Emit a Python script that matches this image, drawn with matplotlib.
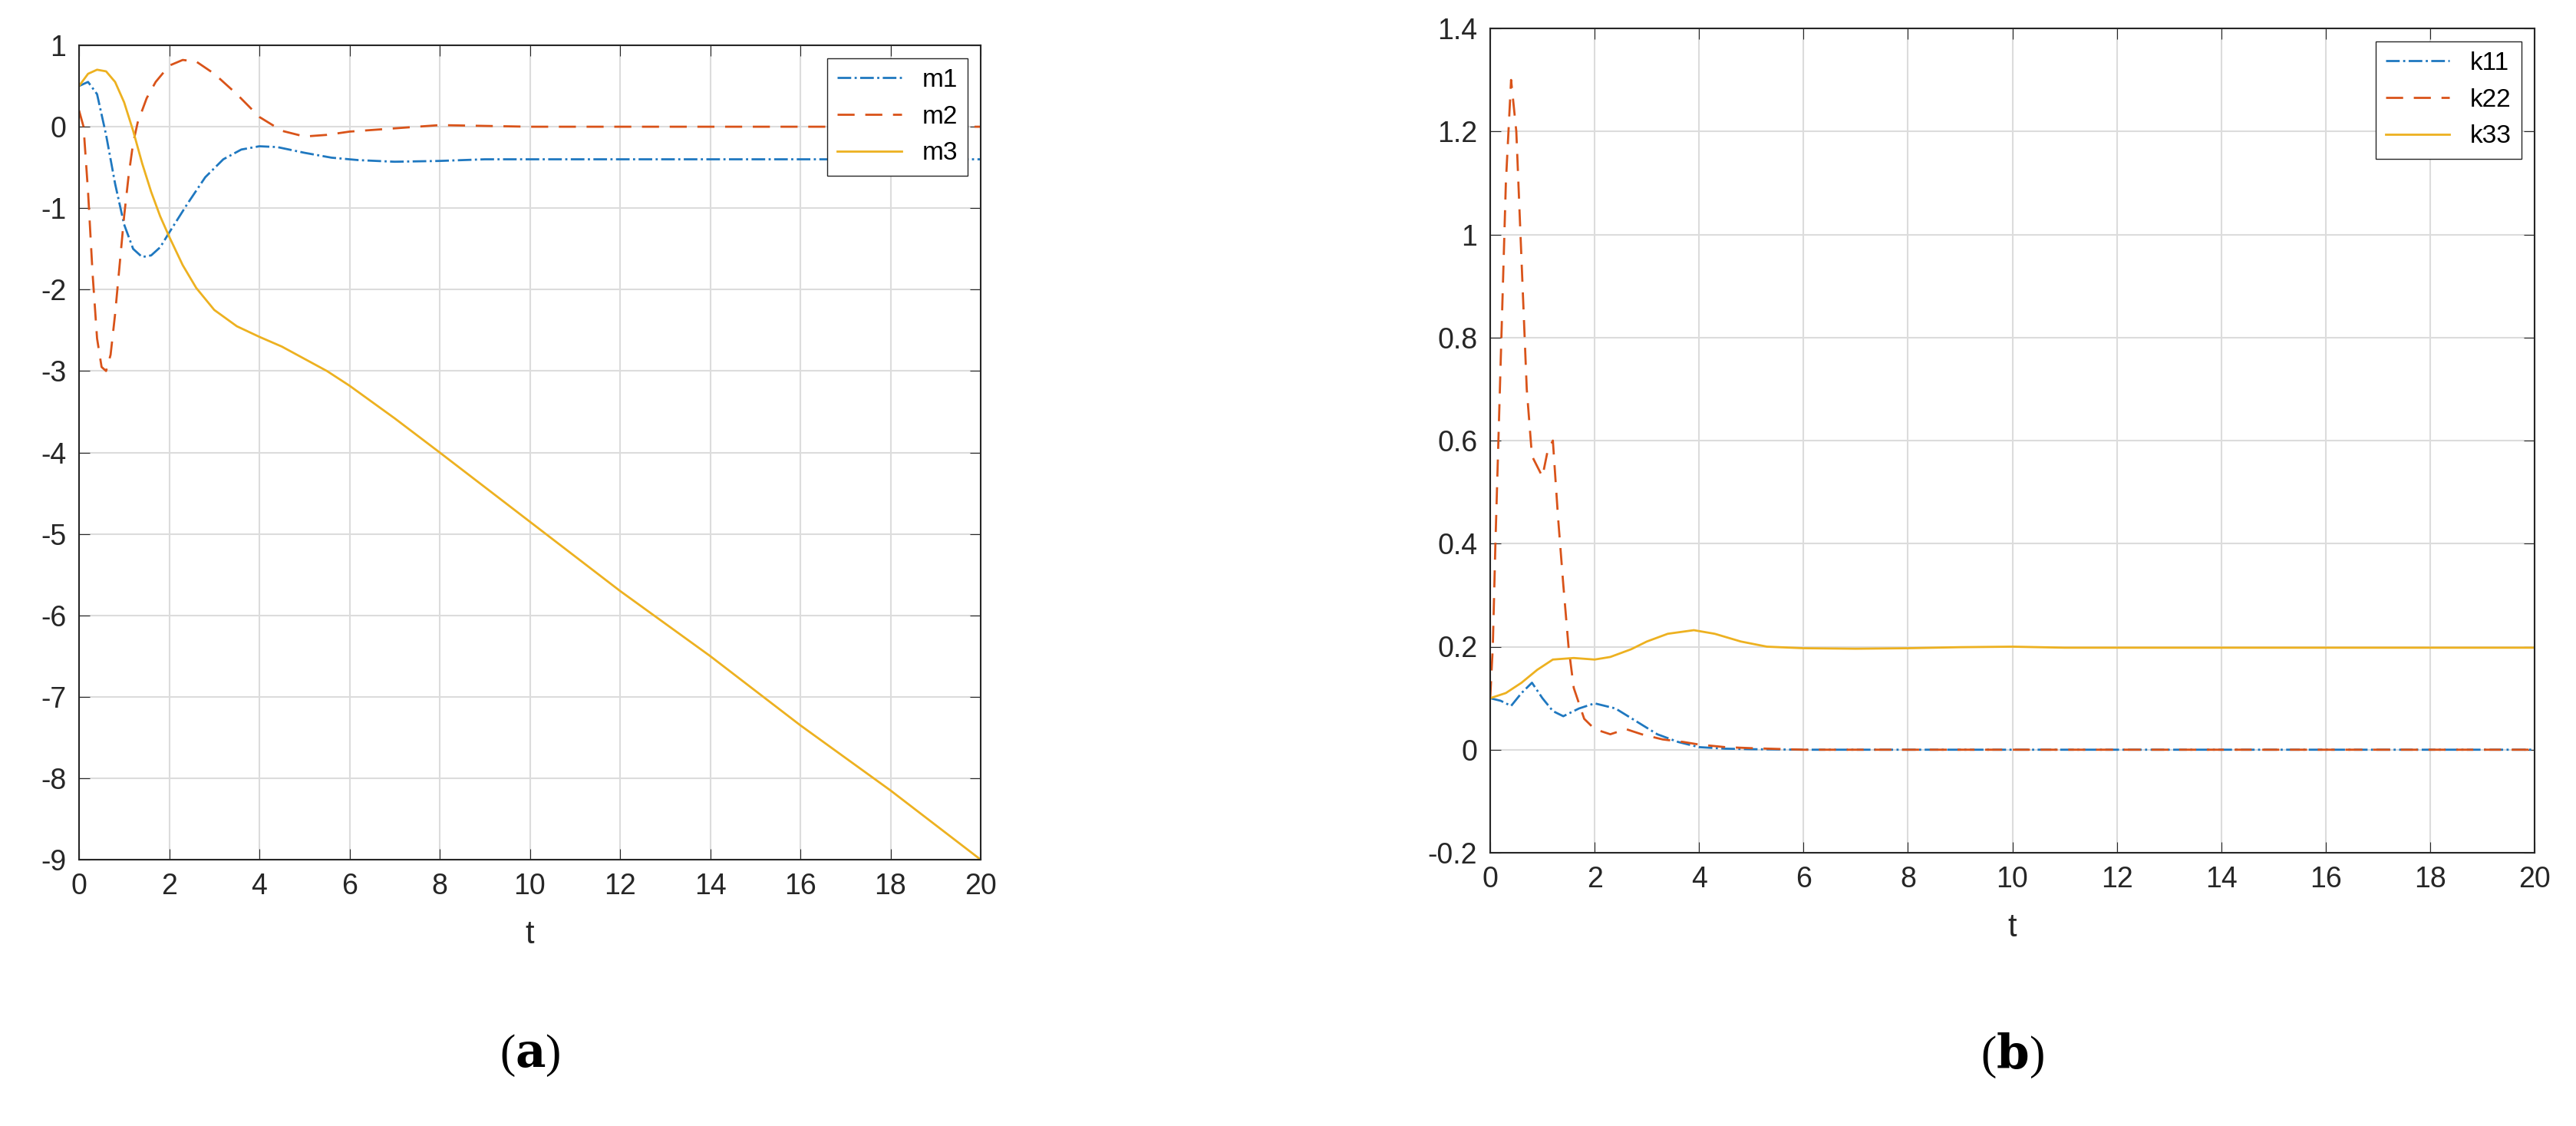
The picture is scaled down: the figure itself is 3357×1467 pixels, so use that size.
import matplotlib
matplotlib.use("Agg")
import matplotlib.pyplot as plt

t_m1 = [0,0.2,0.4,0.6,0.8,1.0,1.2,1.4,1.6,1.8,2.0,2.4,2.8,3.2,3.6,4.0,4.4,5.0,5.6,6.2,7.0,8.0,9.0,10,20]
m1 = [0.5,0.55,0.4,-0.1,-0.7,-1.2,-1.5,-1.6,-1.58,-1.48,-1.3,-0.95,-0.62,-0.4,-0.28,-0.24,-0.25,-0.32,-0.38,-0.41,-0.43,-0.42,-0.4,-0.4,-0.4]
t_m2 = [0,0.1,0.2,0.3,0.4,0.5,0.6,0.7,0.8,0.9,1.0,1.1,1.2,1.3,1.5,1.7,2.0,2.3,2.6,3.0,3.5,4.0,4.5,5.0,5.5,6.0,7.0,8.0,9.0,10,20]
m2 = [0.2,0.0,-0.8,-1.8,-2.6,-2.95,-3.0,-2.8,-2.3,-1.7,-1.1,-0.6,-0.2,0.05,0.35,0.55,0.75,0.82,0.8,0.65,0.4,0.12,-0.05,-0.12,-0.1,-0.06,-0.02,0.02,0.01,0.0,0.0]
t_m3 = [0,0.2,0.4,0.6,0.8,1.0,1.2,1.4,1.6,1.8,2.0,2.3,2.6,3.0,3.5,4.0,4.5,5.0,5.5,6.0,7.0,8.0,10,12,14,16,18,20]
m3 = [0.5,0.65,0.7,0.68,0.55,0.3,-0.05,-0.45,-0.8,-1.1,-1.35,-1.7,-1.98,-2.25,-2.45,-2.58,-2.7,-2.85,-3.0,-3.18,-3.58,-4.0,-4.85,-5.7,-6.5,-7.35,-8.15,-9.0]

t_k11 = [0,0.2,0.4,0.6,0.8,1.0,1.2,1.4,1.7,2.0,2.4,2.8,3.2,3.6,4.0,4.5,5.0,6.0,20]
k11 = [0.1,0.095,0.085,0.11,0.13,0.1,0.075,0.065,0.08,0.09,0.08,0.055,0.03,0.015,0.005,0.002,0.001,0.0,0.0]
t_k22 = [0,0.05,0.1,0.2,0.3,0.4,0.5,0.6,0.7,0.8,0.9,1.0,1.1,1.2,1.3,1.4,1.5,1.6,1.8,2.0,2.3,2.6,2.9,3.3,3.7,4.0,4.5,5.0,6.0,20]
k22 = [0.1,0.2,0.4,0.75,1.1,1.3,1.2,0.95,0.7,0.57,0.55,0.53,0.58,0.6,0.45,0.32,0.2,0.12,0.06,0.04,0.03,0.04,0.03,0.02,0.015,0.01,0.005,0.003,0.0,0.0]
t_k33 = [0,0.3,0.6,0.9,1.2,1.6,2.0,2.3,2.7,3.0,3.4,3.9,4.3,4.8,5.3,6.0,7.0,8.0,9.0,10,11,20]
k33 = [0.1,0.11,0.13,0.155,0.175,0.178,0.175,0.18,0.195,0.21,0.225,0.232,0.225,0.21,0.2,0.197,0.196,0.197,0.199,0.2,0.198,0.198]

blue, orange, yellow = '#1f78c0', '#D95319', '#EDB120'
fig = plt.figure(figsize=(33.57, 14.67), dpi=100)
plt.rcParams['font.family'] = ['Liberation Sans', 'DejaVu Sans']

def style(ax, ylim, yticks, ylabels):
    ax.set_xlim(0, 20); ax.set_ylim(*ylim)
    ax.set_xticks(range(0, 21, 2))
    ax.set_yticks(yticks); ax.set_yticklabels(ylabels)
    ax.grid(True, color='#dcdcdc', linewidth=1.5)
    ax.tick_params(labelsize=27, colors='#262626', direction='in', length=10, top=True, right=True, pad=12)
    for s in ax.spines.values():
        s.set_linewidth(1.5); s.set_color('#262626')
    ax.set_xlabel('t', fontsize=30, color='#262626', labelpad=18)
    ax.legend(loc='upper right', fontsize=24, fancybox=False, edgecolor='#262626', framealpha=1, handlelength=2.5)

ax1 = fig.add_axes([103/3357, 1-1120/1467, (1278-103)/3357, (1120-59)/1467])
ax1.plot(t_m1, m1, '-.', color=blue, lw=2, label='m1')
ax1.plot(t_m2, m2, '--', color=orange, lw=2, dashes=(8, 5), label='m2')
ax1.plot(t_m3, m3, '-', color=yellow, lw=2, label='m3')
style(ax1, (-9, 1), range(-9, 2), [str(v) for v in range(-9, 2)])

ax2 = fig.add_axes([1942/3357, 1-1111/1467, (3303-1942)/3357, (1111-37)/1467])
ax2.plot(t_k11, k11, '-.', color=blue, lw=2, label='k11')
ax2.plot(t_k22, k22, '--', color=orange, lw=2, dashes=(8, 5), label='k22')
ax2.plot(t_k33, k33, '-', color=yellow, lw=2, label='k33')
yt = [-0.2,0,0.2,0.4,0.6,0.8,1,1.2,1.4]
style(ax2, (-0.2, 1.4), yt, ['-0.2','0','0.2','0.4','0.6','0.8','1','1.2','1.4'])

for xc, lab in [((103+1278)/2, 'a'), ((1942+3303)/2, 'b')]:
    fig.text(xc/3357, 1-1375/1467, '(' + r'$\mathbf{' + lab + '}$' + ')', fontsize=44,
             ha='center', va='center', family='Liberation Serif', math_fontfamily='dejavuserif')
fig.savefig('out.png', dpi=100)
